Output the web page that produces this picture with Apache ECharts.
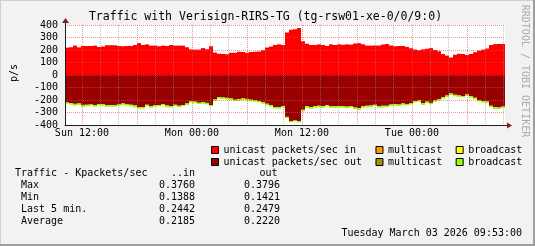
<!DOCTYPE html>
<html><head><meta charset="utf-8">
<script src="https://cdn.jsdelivr.net/npm/echarts@6/dist/echarts.min.js"></script>
<style>html,body{margin:0;padding:0;background:#f2f2f2}#c{width:535px;height:246px}</style>
</head><body><div id="c"></div>
<script>
// ---- text ----
const titleText = 'Traffic with Verisign-RIRS-TG (tg-rsw01-xe-0/0/9:0)';
const yAxisName = 'p/s';
const sideText = 'RRDTOOL / TOBI OETIKER';
const timestampText = 'Tuesday March 03 2026 09:53:00';

// ---- time axis (hours after Sun 00:00) ----
const startHour = 10.15;
const spanHours = 48;
const xTickHours = [12, 24, 36, 48];
const xTickLabels = ['Sun 12:00', 'Mon 00:00', 'Mon 12:00', 'Tue 00:00'];
const gridHours = [12,14,16,18,20,22,24,26,28,30,32,34,36,38,40,42,44,46,48,50,52,54,56,58];
const majorGridEvery = 3;

// ---- value axis ----
const yMin = -400, yMax = 400, yStep = 100;

// ---- series (packets/sec), one value per sample ----
const unicastIn = [
 219,222,235,221,232,232,232,235,224,228,238,238,238,232,230,232,232,240,255,240,245,235,235,230,235,232,240,235,
 235,235,222,205,203,203,215,206,230,180,170,168,166,178,178,186,184,178,184,186,188,198,220,228,240,245,240,
 340,362,366,376,270,250,240,240,245,240,232,245,240,245,242,245,243,252,255,246,235,235,236,236,244,248,236,230,
 232,232,225,214,204,198,205,210,215,200,190,168,155,140,162,170,168,160,168,182,195,203,212,240,247,248,248
];
const unicastOut = [
 220,226,231,228,239,238,236,240,232,234,240,242,242,236,228,232,238,244,256,256,238,248,242,240,232,244,248,238,
 246,240,228,208,213,222,218,223,240,196,176,180,183,188,198,194,188,191,198,200,208,218,230,240,256,258,250,
 335,368,364,370,278,250,256,250,246,250,242,250,250,248,250,253,250,260,264,250,246,244,238,250,246,246,236,232,
 236,228,232,224,210,203,226,213,223,203,195,178,164,148,158,164,168,156,168,182,200,208,212,246,258,260,253
];
const broadcastOut = [
 10,12,14,12,16,12,10,14,12,12,14,12,12,10,12,14,12,16,14,12,12,14,12,10,12,14,12,12,
 12,10,12,14,12,10,12,12,10,12,14,12,12,12,10,12,12,14,12,12,10,12,14,12,12,12,10,
 10,10,8,10,12,12,14,12,12,12,10,12,14,12,12,12,10,12,14,12,12,12,10,12,14,12,12,12,
 12,14,12,12,10,12,14,12,12,12,10,12,14,12,12,12,10,12,14,12,12,12,10,12,14,12,12
];
const multicastIn = [];
const multicastOut = [];
const broadcastIn = [];

// ---- statistics table ----
const statHeader = ['Traffic - Kpackets/sec', '..in', 'out'];
const statLabels = ['Max', 'Min', 'Last 5 min.', 'Average'];
const statIn = ['0.3760', '0.1388', '0.2442', '0.2185'];
const statOut = ['0.3796', '0.1421', '0.2479', '0.2220'];

// ---- build ----
const FONT = '"DejaVu Sans Mono", monospace';
const GL = 65, GT = 25, GW = 440, GH = 100;
const MGRID = 'rgba(222,79,79,0.6)';
const GRID = 'rgba(143,143,143,0.55)';
const gridColors = [MGRID];
for (let k = 1; k < majorGridEvery; k++) gridColors.push(GRID);

const stepH = spanHours / unicastIn.length;
const sampleTimes = unicastIn.map((_, i) => (startHour + (i + 0.5) * stepH).toFixed(3));
const neg = arr => arr.map(v => -v);

function bar(name, color, data) {
  return { name, type: 'bar', xAxisIndex: 0, stack: 'traffic', barWidth: '100%', barGap: '0%', data,
    itemStyle: { color }, silent: true, animation: false, emphasis: { disabled: true } };
}
// series whose values are too small to show: legend entries only
function legendOnly(name, color, data) {
  return { name, type: 'line', xAxisIndex: 0, data, itemStyle: { color }, lineStyle: { color, width: 0 },
    showSymbol: false, silent: true, animation: false };
}

const legendText = {
  'unicast packets/sec in': 'unicast packets/sec in ',
  'unicast packets/sec out': 'unicast packets/sec out',
  'multicast in': 'multicast', 'multicast out': 'multicast',
  'broadcast in': 'broadcast', 'broadcast out': 'broadcast'
};
function legend(names, top) {
  return { data: names.map(n => ({ name: n, icon: 'rect' })), left: GL + 146, top, orient: 'horizontal', padding: 0,
    itemWidth: 7, itemHeight: 7, itemGap: 13.5, icon: 'rect', selectedMode: false,
    itemStyle: { borderColor: '#000', borderWidth: 1 },
    formatter: n => legendText[n],
    textStyle: { fontFamily: FONT, fontSize: 10, color: '#000', lineHeight: 12 } };
}

function txt(text, x, y, align, opts) {
  opts = opts || {};
  return { type: 'text', x, y, rotation: opts.rotation || 0, z: 20, silent: true,
    style: { text, font: (opts.size || 10) + 'px ' + FONT, fill: opts.color || '#000',
      align, textAlign: align, verticalAlign: 'middle', textVerticalAlign: 'middle' } };
}

const graphics = [
  { type: 'rect', shape: { x: 0, y: 0, width: 535, height: 1 }, style: { fill: '#cfcfcf' }, z: 20, silent: true },
  { type: 'rect', shape: { x: 0, y: 0, width: 1, height: 246 }, style: { fill: '#cfcfcf' }, z: 20, silent: true },
  { type: 'rect', shape: { x: 0, y: 244, width: 535, height: 2 }, style: { fill: '#9e9e9e' }, z: 21, silent: true },
  { type: 'rect', shape: { x: 533, y: 0, width: 2, height: 246 }, style: { fill: '#9e9e9e' }, z: 21, silent: true },
  // axis extensions and arrows
  { type: 'line', shape: { x1: GL + 0.5, y1: GT, x2: GL + 0.5, y2: GT - 2 }, style: { stroke: '#1f1f1f', lineWidth: 1 }, z: 20, silent: true },
  { type: 'polygon', shape: { points: [[GL - 3, GT - 2], [GL + 4, GT - 2], [GL + 0.5, GT - 7]] }, style: { fill: '#801f1f' }, z: 20, silent: true },
  { type: 'line', shape: { x1: GL + GW, y1: GT + GH + 0.5, x2: GL + GW + 2, y2: GT + GH + 0.5 }, style: { stroke: '#1f1f1f', lineWidth: 1 }, z: 20, silent: true },
  { type: 'polygon', shape: { points: [[GL + GW + 2, GT + GH - 2.5], [GL + GW + 2, GT + GH + 3.5], [GL + GW + 7, GT + GH + 0.5]] }, style: { fill: '#801f1f' }, z: 20, silent: true },
  txt(titleText, 265.5, 16.7, 'center', { size: 11.5 }),
  txt(yAxisName, 14, 73, 'center', { rotation: Math.PI / 2 }),
  txt(sideText, 525, 71, 'center', { rotation: -Math.PI / 2, color: '#aaaaaa' }),
  txt(statHeader[0], 15, 173.7, 'left'),
  txt(statHeader[1], 195, 173.7, 'right'),
  txt(statHeader[2], 277.5, 173.7, 'right'),
  txt(timestampText, 522, 233.3, 'right')
];
statLabels.forEach((lab, r) => {
  const y = 185.7 + r * 12;
  graphics.push(txt(lab, 21, y, 'left'));
  graphics.push(txt(statIn[r], 195, y, 'right'));
  graphics.push(txt(statOut[r], 280, y, 'right'));
});

const chart = echarts.init(document.getElementById('c'), null, { renderer: 'canvas' });
chart.setOption({
  animation: false,
  backgroundColor: '#f2f2f2',
  grid: { left: GL, top: GT, width: GW, height: GH, show: true, backgroundColor: '#ffffff',
    borderWidth: 0, containLabel: false, outerBoundsMode: 'none' },
  xAxis: [
    { type: 'category', data: sampleTimes, boundaryGap: true, show: false },
    {
      type: 'value', min: startHour, max: startHour + spanHours, z: 3, position: 'bottom',
      axisLine: { show: true, onZero: false, lineStyle: { color: '#1f1f1f', width: 1 } },
      axisTick: { show: false, customValues: gridHours },
      axisLabel: { customValues: xTickHours, margin: 3, fontFamily: FONT, fontSize: 10, color: '#000',
        formatter: v => { const k = xTickHours.indexOf(v); return k >= 0 ? xTickLabels[k] : ''; } },
      splitLine: { show: true, lineStyle: { color: gridColors, type: [1, 1], width: 1 } }
    }
  ],
  yAxis: {
    type: 'value', min: yMin, max: yMax, interval: yStep, z: 3,
    axisLine: { show: true, lineStyle: { color: '#1f1f1f', width: 1 } },
    axisTick: { show: false },
    axisLabel: { margin: 7, fontFamily: FONT, fontSize: 10, color: '#000', showMinLabel: true, showMaxLabel: true },
    splitLine: { show: true, lineStyle: { color: MGRID, type: [1, 1], width: 1 } }
  },
  legend: [
    legend(['unicast packets/sec in', 'multicast in', 'broadcast in'], 144),
    legend(['unicast packets/sec out', 'multicast out', 'broadcast out'], 156)
  ],
  series: [
    bar('unicast packets/sec in', '#ff0000', unicastIn),
    bar('unicast packets/sec out', '#990000', neg(unicastOut)),
    bar('broadcast out', '#99ff00', neg(broadcastOut)),
    legendOnly('multicast in', '#ff9900', multicastIn),
    legendOnly('multicast out', '#999900', multicastOut),
    legendOnly('broadcast in', '#ffff00', broadcastIn)
  ],
  graphic: { elements: graphics }
});
</script></body></html>
